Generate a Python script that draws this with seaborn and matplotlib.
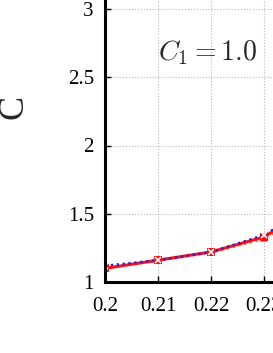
import matplotlib
matplotlib.use("Agg")
import matplotlib.pyplot as plt
import seaborn as sns
import pandas as pd

x_vals = [0.20, 0.21, 0.22, 0.23, 0.24, 0.25]
blue_vals = [1.12, 1.16, 1.22, 1.345, 1.58, 1.90]
red_vals = [1.10, 1.16, 1.22, 1.33, 1.57, 1.88]
orange_vals = [1.10, 1.155, 1.215, 1.315, 1.55, 1.86]
x_ticks = [0.20, 0.21, 0.22, 0.23, 0.24, 0.25, 0.26]
x_ticklabels = ["0.2", "0.21", "0.22", "0.23", "0.24", "0.25", "0.26"]
y_ticks = [1, 1.5, 2, 2.5, 3, 3.5]
y_ticklabels = ["1", "1.5", "2", "2.5", "3", "3.5"]

sns.set_style("ticks")
plt.rcParams["font.family"] = ["Liberation Serif", "DejaVu Serif"]
plt.rcParams["mathtext.fontset"] = "cm"

fig = plt.figure(figsize=(2.73, 3.53), dpi=100)
W, H = 273, 353
left_px, bottom_px = 105, 282
px_per_x = 5300.0
px_per_y = 136.5
xlim = (0.2, 0.3)
ylim = (1.0, 3.5)
ax = fig.add_axes([left_px / W, (H - bottom_px) / H,
                   (xlim[1] - xlim[0]) * px_per_x / W,
                   (ylim[1] - ylim[0]) * px_per_y / H])

df = pd.DataFrame({"x": x_vals, "blue": blue_vals, "red": red_vals, "orange": orange_vals})

sns.lineplot(data=df, x="x", y="orange", ax=ax, color="#ff6a3d", linestyle=":",
             linewidth=1.6, marker="^", markersize=4, markeredgewidth=0)
sns.lineplot(data=df, x="x", y="red", ax=ax, color="#ff1010", linestyle="-",
             linewidth=2.2, marker="s", markersize=6, markeredgewidth=0)
sns.lineplot(data=df, x="x", y="blue", ax=ax, color="#1a1aff", linestyle=":",
             linewidth=1.6, marker="x", markersize=4, markeredgewidth=1.2)

ax.set_xlim(*xlim)
ax.set_ylim(*ylim)
ax.set_xticks(x_ticks)
ax.set_xticklabels(x_ticklabels)
ax.set_yticks(y_ticks)
ax.set_yticklabels(y_ticklabels)
ax.grid(True, linestyle=":", color="#b8b8b8", linewidth=0.8)
ax.tick_params(axis="y", direction="in", length=4, width=1, labelsize=15, pad=8, colors="black")
ax.tick_params(axis="x", direction="in", length=4, width=1, labelsize=15, pad=10.5, colors="black")
for s in ax.spines.values():
    s.set_linewidth(2.2)
    s.set_color("black")

ax.set_xlabel("")
ax.set_ylabel("C", fontsize=26, rotation=90)
ax.yaxis.set_label_coords((30 - left_px) / ((xlim[1] - xlim[0]) * px_per_x),
                          (bottom_px - 107) / ((ylim[1] - ylim[0]) * px_per_y))

ax.text(0.2100, 2.68, r"$C_1 = 1.0$", fontsize=20, ha="left", va="center")

fig.savefig("out.png", dpi=100)
